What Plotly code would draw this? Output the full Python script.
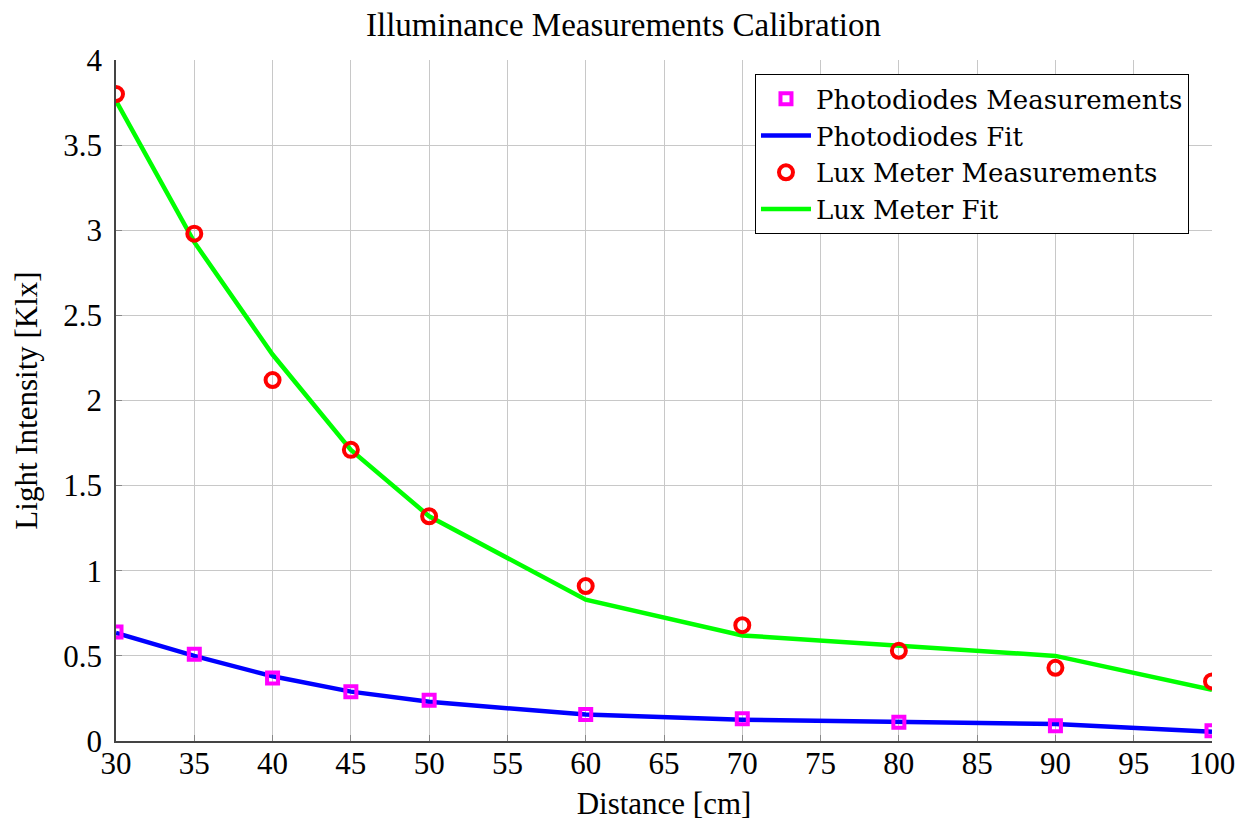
import plotly.graph_objects as go

# Distances at which the illuminance was measured
distance_cm = [30, 35, 40, 45, 50, 60, 70, 80, 90, 100]

# Photodiode readings and fitted curve [Klx]
photodiode_meas = [0.64, 0.51, 0.37, 0.29, 0.24, 0.155, 0.13, 0.11, 0.09, 0.06]
photodiode_fit = [0.635, 0.50, 0.38, 0.29, 0.23, 0.155, 0.125, 0.115, 0.10, 0.055]

# Lux meter readings and fitted curve [Klx]
luxmeter_meas = [3.80, 2.98, 2.12, 1.71, 1.32, 0.91, 0.68, 0.53, 0.43, 0.35]
luxmeter_fit = [3.76, 2.93, 2.27, 1.71, 1.32, 0.83, 0.62, 0.56, 0.50, 0.30]

x_ticks = [30, 35, 40, 45, 50, 55, 60, 65, 70, 75, 80, 85, 90, 95, 100]
y_ticks = [0, 0.5, 1, 1.5, 2, 2.5, 3, 3.5, 4]
y_tick_labels = ["0", "0.5", "1", "1.5", "2", "2.5", "3", "3.5", "4"]

FONT = "Liberation Serif"
LEGEND_FONT = "DejaVu Serif"

fig = go.Figure()

# Fit lines first so the markers sit on top of them
fig.add_trace(go.Scatter(
    x=distance_cm, y=photodiode_fit, mode="lines", name="Photodiodes Fit",
    line=dict(color="#0000ff", width=4.5), legendrank=2,
))
fig.add_trace(go.Scatter(
    x=distance_cm, y=luxmeter_fit, mode="lines", name="Lux Meter Fit",
    line=dict(color="#00ff00", width=4.5), legendrank=4,
))
fig.add_trace(go.Scatter(
    x=distance_cm, y=photodiode_meas, mode="markers", name="Photodiodes Measurements",
    marker=dict(symbol="square-open", color="#ff00ff", size=11,
                line=dict(color="#ff00ff", width=4)),
    legendrank=1,
))
fig.add_trace(go.Scatter(
    x=distance_cm, y=luxmeter_meas, mode="markers", name="Lux Meter Measurements",
    marker=dict(symbol="circle-open", color="#ff0000", size=14,
                line=dict(color="#ff0000", width=4)),
    legendrank=3,
))

fig.update_layout(
    width=1247, height=830,
    margin=dict(l=116, r=35, t=60, b=89),
    paper_bgcolor="white", plot_bgcolor="white",
    font=dict(family=FONT, color="black", size=31),
    title=dict(text="Illuminance Measurements Calibration", x=0.5, xanchor="center",
               y=0.971, yanchor="middle", font=dict(family=FONT, size=33)),
    showlegend=True,
    legend=dict(
        x=0.979, y=0.979, xanchor="right", yanchor="top",
        bgcolor="white", bordercolor="black", borderwidth=1,
        font=dict(family=LEGEND_FONT, size=26), tracegroupgap=0, itemwidth=50,
    ),
    xaxis=dict(
        range=[30, 100], tickvals=x_ticks, showgrid=True, gridcolor="#c8c8c8",
        gridwidth=1, showline=True, linecolor="#444444", linewidth=1.5,
        ticks="inside", ticklen=6, tickcolor="#888888", mirror=False,
        zeroline=False, tickfont=dict(size=31), ticklabelstandoff=-6,
        title=dict(text="Distance [cm]", font=dict(size=31), standoff=12),
    ),
    yaxis=dict(
        range=[0, 4], tickvals=y_ticks, ticktext=y_tick_labels, showgrid=True,
        gridcolor="#c8c8c8", gridwidth=1, showline=True, linecolor="#444444",
        linewidth=1.5, ticks="inside", ticklen=6, tickcolor="#888888",
        zeroline=False, tickfont=dict(size=31), ticklabelstandoff=6,
        title=dict(text="Light Intensity [Klx]", font=dict(size=31), standoff=16),
    ),
)

fig.write_html("out.html")
